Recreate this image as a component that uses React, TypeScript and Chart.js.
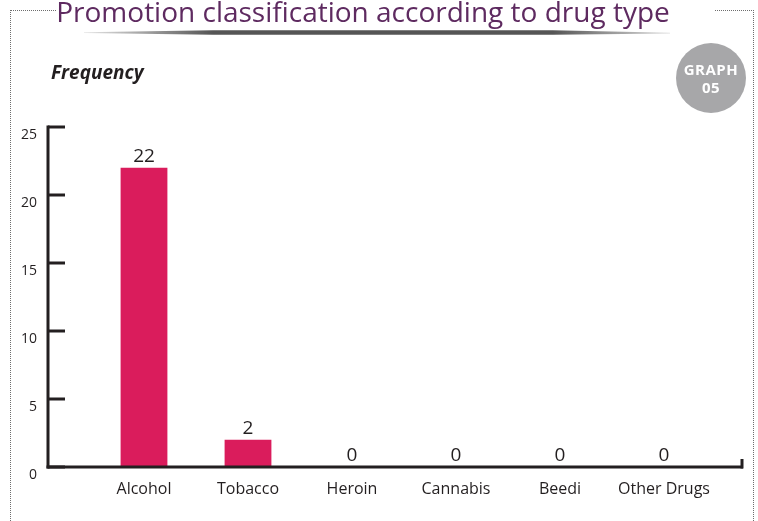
import React, { useEffect, useRef } from "react";
import { Chart, registerables } from "chart.js";

Chart.register(...registerables);

const categories = ["Alcohol", "Tobacco", "Heroin", "Cannabis", "Beedi", "Other Drugs"];
const frequencies = [22, 2, 0, 0, 0, 0];
const yTicks = [0, 5, 10, 15, 20, 25];

const TEXT = "#231f20";
const FONT = "'Open Sans', 'Noto Sans', sans-serif";

const axesPlugin = {
  id: "customAxes",
  afterDatasetsDraw(chart: any) {
    const { ctx, chartArea } = chart;
    const y = chart.scales.y;
    const axisX = chartArea.left - 44;
    const axisRight = chartArea.right + 27;
    const y0 = y.getPixelForValue(0);
    const yTop = y.getPixelForValue(yTicks[yTicks.length - 1]);
    ctx.save();
    ctx.strokeStyle = TEXT;
    ctx.lineWidth = 3;
    ctx.lineCap = "butt";
    ctx.beginPath();
    ctx.moveTo(axisX, yTop - 1.5);
    ctx.lineTo(axisX, y0 + 1.5);
    ctx.stroke();
    yTicks.forEach((v) => {
      const py = y.getPixelForValue(v);
      ctx.beginPath();
      ctx.moveTo(axisX, py);
      ctx.lineTo(axisX + 17, py);
      ctx.stroke();
    });
    ctx.beginPath();
    ctx.moveTo(axisX - 1.5, y0);
    ctx.lineTo(axisRight, y0);
    ctx.stroke();
    ctx.beginPath();
    ctx.moveTo(axisRight - 1, y0 + 1.5);
    ctx.lineTo(axisRight - 1, y0 - 8);
    ctx.stroke();
    const meta = chart.getDatasetMeta(0);
    ctx.fillStyle = TEXT;
    ctx.font = `19px ${FONT}`;
    ctx.textAlign = "center";
    ctx.textBaseline = "alphabetic";
    meta.data.forEach((bar: any, i: number) => {
      ctx.fillText(String(frequencies[i]), bar.x, bar.y - 6);
    });
    ctx.restore();
  },
};

export default function App() {
  const canvasRef = useRef<HTMLCanvasElement | null>(null);

  useEffect(() => {
    if (!canvasRef.current) return;
    const chart = new Chart(canvasRef.current, {
      type: "bar",
      data: {
        labels: categories,
        datasets: [
          {
            data: frequencies,
            backgroundColor: "#da1c5c",
            categoryPercentage: 1,
            barPercentage: 0.45,
          },
        ],
      },
      options: {
        animation: false,
        responsive: false,
        maintainAspectRatio: false,
        layout: { padding: { top: 127, right: 42, left: 0, bottom: 0 } },
        plugins: { legend: { display: false }, tooltip: { enabled: false } },
        scales: {
          x: {
            grid: { display: false, drawTicks: false },
            border: { display: false },
            ticks: {
              color: TEXT,
              font: { family: FONT, size: 16 },
              padding: 13,
              maxRotation: 0,
            },
            afterFit: (s: any) => {
              s.height = 54;
              s.paddingLeft = 0;
              s.paddingRight = 0;
            },
          },
          y: {
            min: 0,
            max: 25,
            grid: { display: false, drawTicks: false },
            border: { display: false },
            ticks: {
              stepSize: 5,
              color: TEXT,
              font: { family: FONT, size: 14 },
              padding: 55,
              labelOffset: 8,
            },
            afterFit: (s: any) => {
              s.width = 92;
              s.paddingTop = 0;
              s.paddingBottom = 0;
            },
          },
        },
      },
      plugins: [axesPlugin],
    });
    return () => chart.destroy();
  }, []);

  return (
    <div
      style={{
        position: "fixed",
        left: 0,
        top: 0,
        width: 758,
        height: 521,
        background: "#fff",
        overflow: "hidden",
        fontFamily: FONT,
      }}
    >
      <div
        style={{
          position: "absolute",
          left: 10,
          top: 10,
          width: 742,
          height: 600,
          borderTop: "1px dotted #6e6e6e",
          borderLeft: "1px dotted #6e6e6e",
          borderRight: "1px dotted #6e6e6e",
        }}
      />
      <canvas
        ref={canvasRef}
        width={758}
        height={521}
        style={{ position: "absolute", left: 0, top: 0, width: 758, height: 521 }}
      />
      <div
        style={{
          position: "absolute",
          left: 57,
          top: 0,
          width: 658,
          height: 24,
          background: "#fff",
        }}
      />
      <div
        style={{
          position: "absolute",
          left: 0,
          top: -4,
          width: 726,
          textAlign: "center",
          fontSize: 28,
          lineHeight: "30px",
          color: "#5e2a60",
          whiteSpace: "nowrap",
        }}
      >
        Promotion classification according to drug type
      </div>
      <div
        style={{
          position: "absolute",
          left: 84,
          top: 30,
          width: 586,
          height: 5,
          background:
            "linear-gradient(to right, rgba(90,90,90,0.15), #555 22%, #555 80%, rgba(90,90,90,0.2))",
          clipPath: "polygon(0 45%, 22% 5%, 80% 5%, 100% 55%, 100% 70%, 80% 95%, 22% 95%, 0 60%)",
        }}
      />
      <div
        style={{
          position: "absolute",
          left: 51,
          top: 62,
          fontSize: 19,
          lineHeight: "20px",
          fontWeight: 700,
          fontStyle: "italic",
          color: TEXT,
          whiteSpace: "nowrap",
        }}
      >
        Frequency
      </div>
      <div
        style={{
          position: "absolute",
          left: 676,
          top: 43,
          width: 70,
          height: 70,
          borderRadius: "50%",
          background: "#a7a7a9",
          color: "#fff",
          fontWeight: 700,
          fontSize: 15,
          letterSpacing: 0.5,
          lineHeight: "18px",
          textAlign: "center",
          display: "flex",
          flexDirection: "column",
          justifyContent: "center",
        }}
      >
        <div>GRAPH</div>
        <div>05</div>
      </div>
    </div>
  );
}
